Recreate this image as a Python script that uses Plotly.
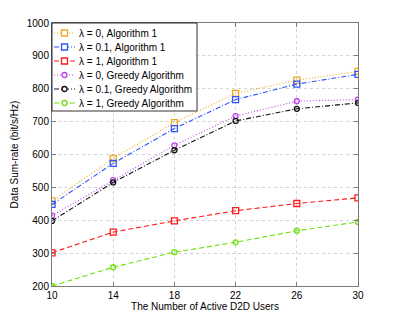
import plotly.graph_objects as go

x_users = [10, 14, 18, 22, 26, 30]
alg1_l0 = [459, 588, 697, 786, 826, 853]
alg1_l01 = [448, 573, 679, 767, 814, 844]
alg1_l1 = [301, 364, 398, 429, 451, 468]
greedy_l0 = [414, 522, 628, 717, 762, 767]
greedy_l01 = [398, 515, 613, 702, 739, 757]
greedy_l1 = [200, 257, 303, 333, 368, 395]
y_ticks = [200, 300, 400, 500, 600, 700, 800, 900, 1000]

DOT = "1px,2px"
DASH = "5px,3px"
DASHDOT = "5px,2px,1px,2px"

series = [
    ("λ = 0, Algorithm 1", alg1_l0, "#f0a820", DOT, "square"),
    ("λ = 0.1, Algorithm 1", alg1_l01, "#2f55ff", DASHDOT, "square"),
    ("λ = 1, Algorithm 1", alg1_l1, "#ff1a1a", DASH, "square"),
    ("λ = 0, Greedy Algorithm", greedy_l0, "#c040f0", DOT, "circle"),
    ("λ = 0.1, Greedy Algorithm", greedy_l01, "#111111", DASHDOT, "circle"),
    ("λ = 1, Greedy Algorithm", greedy_l1, "#70e010", DASH, "circle"),
]

# page body has an 8px margin; figure is sized to fit the 395x323 window
OFF = 8
W, H = 395 - 2 * OFF, 323 - 2 * OFF
# plot area in window pixels: x 52..358, y 23..286
L, T = 52 - OFF, 23 - OFF
R, B = W - (358 - OFF), H - (286 - OFF)
PW, PH = W - L - R, H - T - B

def px(X):
    return (X - OFF - L) / PW

def py(Y):
    return (H - B - (Y - OFF)) / PH

fig = go.Figure()
for name, ys, col, dash, sym in series:
    fig.add_trace(go.Scatter(
        x=x_users, y=ys, name=name, mode="lines+markers", showlegend=False,
        line=dict(color=col, dash=dash, width=1.1),
        marker=dict(symbol=sym + "-open", size=6 if sym == "square" else 5,
                    color=col, line=dict(width=1.3, color=col)),
    ))

# custom compact legend
shapes = [dict(type="rect", xref="paper", yref="paper", layer="above",
               x0=px(52), x1=px(197), y0=py(111), y1=py(23),
               fillcolor="white", line=dict(color="#000", width=0.8))]
annotations = []
for i, (name, ys, col, dash, sym) in enumerate(series):
    Y = 33 + 14 * i
    shapes.append(dict(type="line", xref="paper", yref="paper", layer="above",
                       x0=px(54), x1=px(75), y0=py(Y), y1=py(Y),
                       line=dict(color=col, dash=dash, width=1.1)))
    if sym == "square":
        r = 3
        shapes.append(dict(type="rect", xref="paper", yref="paper", layer="above",
                           x0=px(64.5 - r), x1=px(64.5 + r), y0=py(Y + r), y1=py(Y - r),
                           fillcolor="white", line=dict(color=col, width=1.3)))
    else:
        r = 2.5
        shapes.append(dict(type="circle", xref="paper", yref="paper", layer="above",
                           x0=px(64.5 - r), x1=px(64.5 + r), y0=py(Y + r), y1=py(Y - r),
                           fillcolor="white", line=dict(color=col, width=1.3)))
    annotations.append(dict(xref="paper", yref="paper", x=px(77), y=py(Y),
                            xanchor="left", yanchor="middle", showarrow=False,
                            text=name, font=dict(size=10, color="#000")))

axis_common = dict(
    showgrid=True, gridcolor="#d4d4d4", griddash="dot", gridwidth=1,
    showline=True, linecolor="#7a7a7a", linewidth=1, mirror="ticks",
    ticks="inside", ticklen=4, tickcolor="#7a7a7a",
    zeroline=False, tickfont=dict(size=10, color="#000"),
)

fig.update_layout(
    width=W, height=H,
    margin=dict(l=L, r=R, t=T, b=B, autoexpand=False),
    paper_bgcolor="white", plot_bgcolor="white",
    font=dict(family="Liberation Sans, Arial, sans-serif", size=10, color="#000"),
    xaxis=dict(range=[10, 30], tickvals=x_users,
               title=dict(text="The Number of Active D2D Users", font=dict(size=10), standoff=2),
               **axis_common),
    yaxis=dict(range=[200, 1000], tickvals=y_ticks,
               title=dict(text="Data Sum-rate (bit/s/Hz)", font=dict(size=10), standoff=6),
               **axis_common),
    shapes=shapes,
    annotations=annotations,
    showlegend=False,
)

fig.write_html("out.html")
